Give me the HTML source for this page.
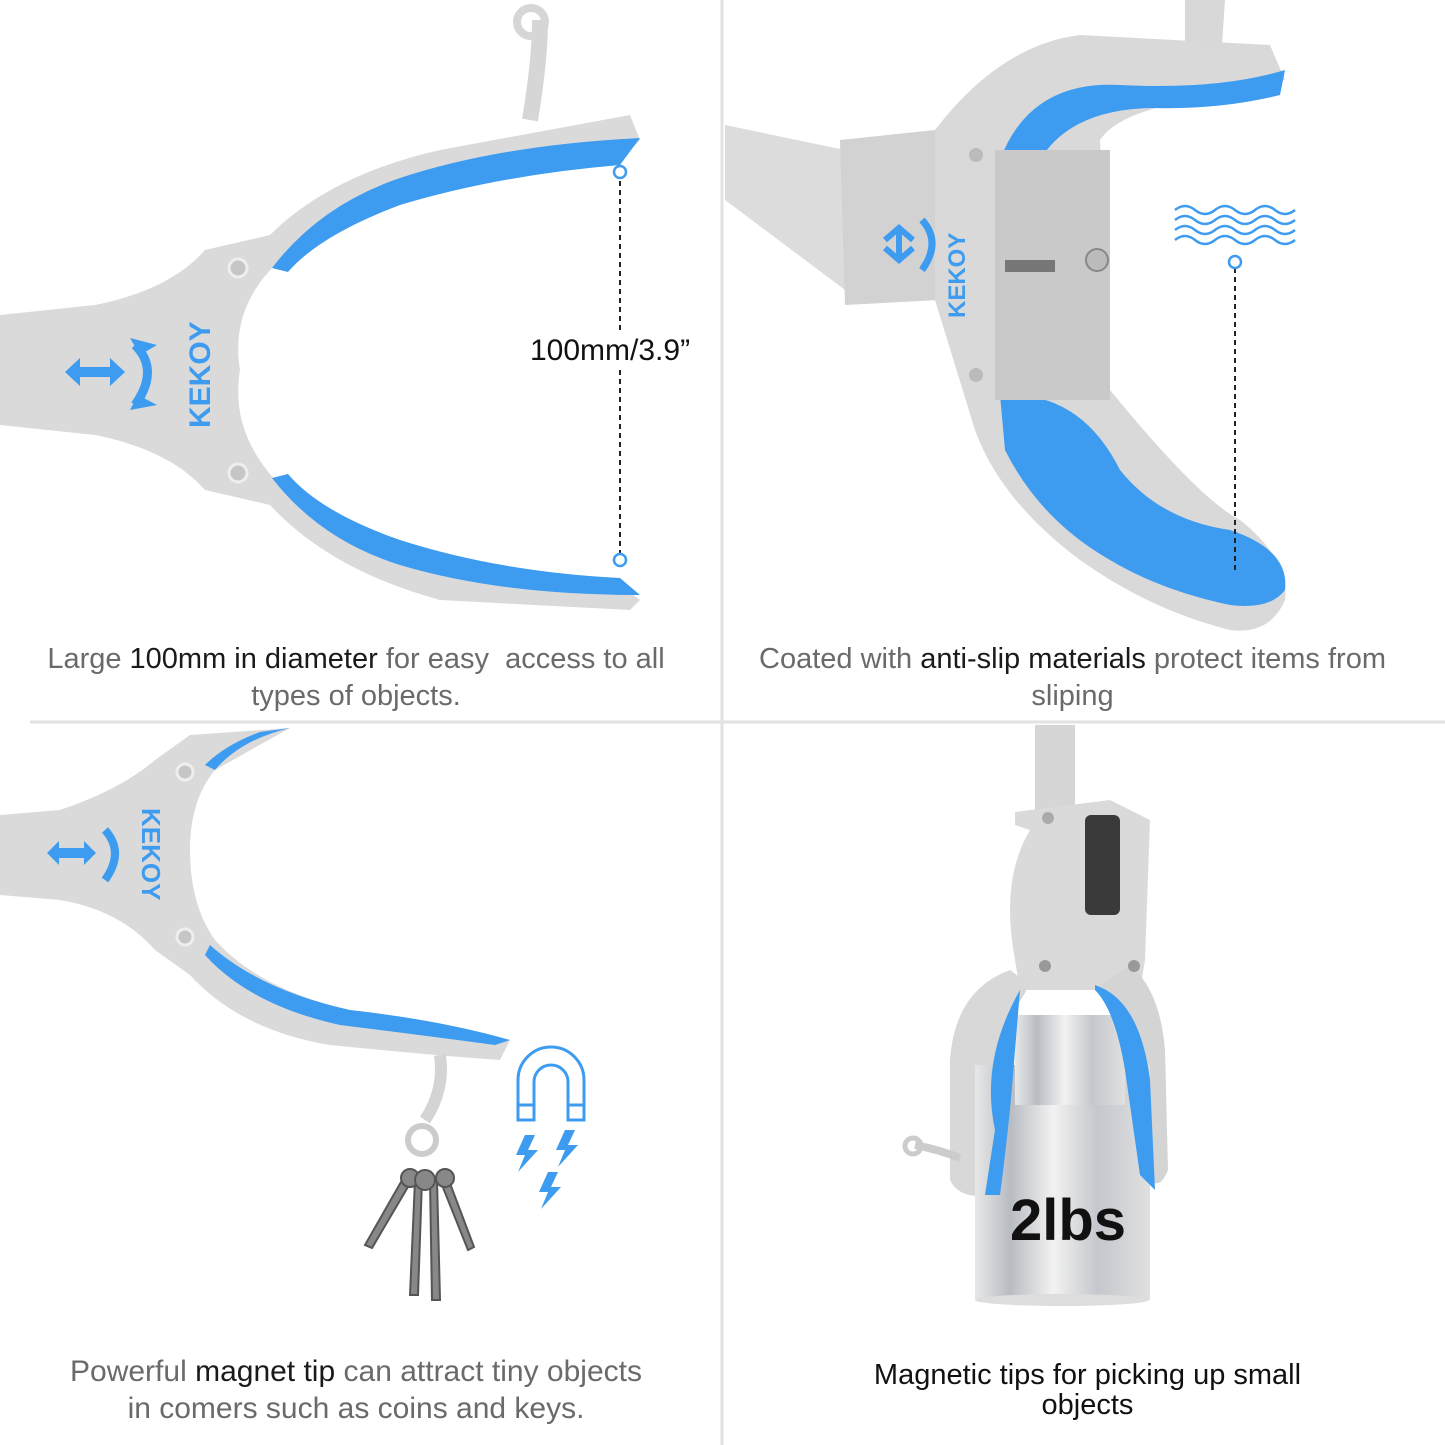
<!DOCTYPE html>
<html><head><meta charset="utf-8"><style>
body{margin:0;background:#fff;}
.w{position:relative;width:1445px;height:1445px;overflow:hidden;font-family:"Liberation Sans",sans-serif;}
svg{position:absolute;left:0;top:0;}
.cap{position:absolute;text-align:center;font-size:29px;color:#6a6a6a;line-height:37px;white-space:nowrap;}
.cap b{font-weight:normal;color:#1a1a1a;}
</style></head><body><div class="w">
<svg width="1445" height="1445" viewBox="0 0 1445 1445">
<defs>
<linearGradient id="met" x1="0" x2="1"><stop offset="0" stop-color="#e8e8e8"/><stop offset="0.2" stop-color="#b8bcc2"/><stop offset="0.45" stop-color="#f2f2f2"/><stop offset="0.7" stop-color="#c4c7cc"/><stop offset="1" stop-color="#e0e0e0"/></linearGradient>
</defs>
<line x1="722" y1="0" x2="722" y2="1445" stroke="#e2e2e2" stroke-width="3"/>
<line x1="30" y1="722" x2="1445" y2="722" stroke="#e2e2e2" stroke-width="3"/>

<!-- TOP LEFT grabber -->
<g>
<path d="M0 315 L95 305 Q170 290 205 250 L270 235 Q330 175 440 150 L630 115 L640 140 L620 160 Q450 175 360 215 Q300 240 275 265 Q230 310 240 370 Q230 430 275 480 Q300 505 360 530 Q450 570 620 585 L640 600 L630 610 L440 600 Q330 570 270 505 L205 490 Q170 450 95 435 L0 425 Z" fill="#dadada"/>
<path d="M272 268 Q320 205 400 178 Q500 145 640 138 L620 165 Q500 175 400 205 Q320 235 288 272 Z" fill="#3d9bf0"/>
<path d="M272 478 Q320 540 400 565 Q500 595 640 595 L620 578 Q500 572 400 540 Q320 512 288 474 Z" fill="#3d9bf0"/>
<path d="M530 120 Q540 60 540 20" stroke="#d6d6d6" stroke-width="16" fill="none"/>
<circle cx="531" cy="22" r="14" fill="none" stroke="#d6d6d6" stroke-width="8"/>
<circle cx="238" cy="268" r="9" fill="#c6c6c6" stroke="#eee" stroke-width="3"/>
<circle cx="238" cy="473" r="9" fill="#c6c6c6" stroke="#eee" stroke-width="3"/>
<path d="M65 372 l15-14 v9 h30 v-9 l15 14 -15 14 v-9 h-30 v9z" fill="#3d9bf0"/>
<path d="M135 345 q25 25 0 60" stroke="#3d9bf0" stroke-width="9" fill="none"/>
<polygon points="130,338 157,345 140,355" fill="#3d9bf0"/><polygon points="130,410 157,405 138,395" fill="#3d9bf0"/>
<text x="0" y="0" transform="translate(210,428) rotate(-90)" font-size="30" font-weight="bold" fill="#3d9bf0" font-family="Liberation Sans">KEKOY</text>
<line x1="620" y1="172" x2="620" y2="560" stroke="#222" stroke-width="2" stroke-dasharray="5,4"/>
<circle cx="620" cy="172" r="6" fill="#fff" stroke="#3d9bf0" stroke-width="2.5"/>
<circle cx="620" cy="560" r="6" fill="#fff" stroke="#3d9bf0" stroke-width="2.5"/>
<rect x="528" y="330" width="184" height="40" fill="#fff"/>
<text x="530" y="360" font-size="30" fill="#111" font-family="Liberation Sans">100mm/3.9”</text>
</g>

<!-- TOP RIGHT -->
<g>
<path d="M725 125 L845 150 L845 290 L725 200 Z" fill="#dcdcdc"/>
<path d="M840 140 L935 130 L940 300 L845 305 Z" fill="#d2d2d2"/>
<path d="M1185 0 L1225 0 L1222 45 L1185 45 Z" fill="#d8d8d8"/>
<path d="M935 130 Q1000 45 1080 35 L1270 45 L1285 80 L1200 100 Q1120 110 1100 140 L1110 390 Q1200 500 1240 520 Q1290 560 1285 600 Q1270 635 1230 630 Q1150 610 1080 560 Q1000 500 975 430 L935 300 Z" fill="#d9d9d9"/>
<path d="M1000 160 Q1030 80 1120 85 Q1220 90 1285 70 L1280 95 Q1220 110 1150 108 Q1070 110 1040 160 Z" fill="#3d9bf0"/>
<path d="M1000 395 Q1080 390 1120 470 Q1160 520 1230 530 Q1290 550 1285 590 Q1270 610 1230 605 Q1160 590 1110 560 Q1040 520 1005 450 Z" fill="#3d9bf0"/>
<rect x="995" y="150" width="115" height="250" fill="#c9c9c9"/>
<rect x="1005" y="260" width="50" height="12" fill="#777"/>
<circle cx="1097" cy="260" r="11" fill="#bbb" stroke="#888" stroke-width="2"/>
<circle cx="976" cy="155" r="7" fill="#bbb"/><circle cx="976" cy="375" r="7" fill="#bbb"/>
<path d="M885 240 l14-12 l14 12 M899 228 v30 M885 248 l14 12 l14-12" stroke="#3d9bf0" stroke-width="6" fill="none"/>
<path d="M922 220 q20 22 0 50" stroke="#3d9bf0" stroke-width="7" fill="none"/>
<text x="0" y="0" transform="translate(965,318) rotate(-90)" font-size="24" font-weight="bold" fill="#3d9bf0" font-family="Liberation Sans">KEKOY</text>
<g stroke="#3d9bf0" stroke-width="2.5" fill="none">
<path d="M1175 210 q10-8 20 0 t20 0 t20 0 t20 0 t20 0 t20 0"/>
<path d="M1175 220 q10-8 20 0 t20 0 t20 0 t20 0 t20 0 t20 0"/>
<path d="M1175 230 q10-8 20 0 t20 0 t20 0 t20 0 t20 0 t20 0"/>
<path d="M1175 240 q10-8 20 0 t20 0 t20 0 t20 0 t20 0 t20 0"/>
</g>
<line x1="1235" y1="268" x2="1235" y2="570" stroke="#222" stroke-width="2" stroke-dasharray="5,4"/>
<circle cx="1235" cy="262" r="6" fill="#fff" stroke="#3d9bf0" stroke-width="2.5"/>
</g>

<!-- BOTTOM LEFT -->
<g>
<path d="M0 815 L60 810 Q120 790 155 760 L190 735 L290 728 L215 770 Q190 800 190 850 Q190 905 215 940 Q260 990 350 1010 Q440 1025 510 1040 L500 1060 Q430 1055 330 1045 Q240 1030 190 975 L155 950 Q120 910 60 900 L0 895 Z" fill="#dadada"/>
<path d="M215 770 Q240 740 290 728 L260 732 Q225 745 205 765 Z" fill="#3d9bf0"/>
<path d="M210 945 Q260 990 350 1010 Q440 1020 510 1040 L495 1045 Q420 1035 340 1025 Q250 1005 205 955 Z" fill="#3d9bf0"/>
<circle cx="185" cy="772" r="8" fill="#c6c6c6" stroke="#eee" stroke-width="3"/>
<circle cx="185" cy="937" r="8" fill="#c6c6c6" stroke="#eee" stroke-width="3"/>
<path d="M47 853 l12-12 v7 h25 v-7 l12 12 -12 12 v-7 h-25 v7z" fill="#3d9bf0"/>
<path d="M105 830 q20 22 0 50" stroke="#3d9bf0" stroke-width="8" fill="none"/>
<text x="0" y="0" transform="translate(142,808) rotate(90)" font-size="26" font-weight="bold" fill="#3d9bf0" font-family="Liberation Sans">KEKOY</text>
<path d="M440 1055 Q445 1090 425 1120" stroke="#d4d4d4" stroke-width="12" fill="none"/>
<circle cx="422" cy="1140" r="14" fill="none" stroke="#ccc" stroke-width="6"/>
<g fill="#888" stroke="#555" stroke-width="2">
<path d="M405 1175 L365 1245 L372 1248 L412 1180 Z"/>
<path d="M415 1180 L410 1295 L418 1295 L422 1180 Z"/>
<path d="M430 1180 L432 1300 L440 1300 L437 1180 Z"/>
<path d="M440 1180 L468 1250 L474 1247 L448 1178 Z"/>
<circle cx="410" cy="1178" r="9"/><circle cx="425" cy="1180" r="10"/><circle cx="445" cy="1178" r="9"/>
</g>
<g stroke="#3d9bf0" stroke-width="3" fill="none">
<path d="M518 1120 V1080 a33 33 0 0 1 66 0 V1120 H568 V1082 a17 17 0 0 0 -34 0 V1120 Z"/>
<line x1="518" y1="1105" x2="534" y2="1105"/><line x1="568" y1="1105" x2="584" y2="1105"/>
</g>
<g fill="#3d9bf0">
<polygon points="525,1135 535,1135 528,1150 538,1150 518,1172 525,1155 516,1155"/>
<polygon points="565,1130 575,1130 568,1145 578,1145 558,1167 565,1150 556,1150"/>
<polygon points="548,1172 558,1172 551,1187 561,1187 541,1209 548,1192 539,1192"/>
</g>
</g>

<!-- BOTTOM RIGHT -->
<g>
<rect x="1035" y="725" width="40" height="90" fill="#d6d6d6"/>
<path d="M1015 812 L1110 800 L1150 820 L1145 960 L1140 990 L1020 990 L1015 960 Q1000 880 1030 830 L1015 825 Z" fill="#dadada"/>
<rect x="1085" y="815" width="35" height="100" rx="6" fill="#3a3a3a"/>
<path d="M1010 970 Q955 990 950 1060 L950 1180 Q960 1200 990 1195 L1000 1150 Q980 1060 1030 985 Z" fill="#d8d8d8"/>
<path d="M1130 965 Q1160 990 1165 1050 L1168 1170 Q1160 1190 1150 1180 L1130 1060 Q1120 1000 1100 985 Z" fill="#d4d4d4"/>
<rect x="975" y="1065" width="175" height="235" fill="url(#met)"/>
<ellipse cx="1062" cy="1300" rx="87" ry="6" fill="#ddd"/>
<rect x="1015" y="1015" width="110" height="90" fill="url(#met)"/>
<path d="M1020 990 Q980 1060 995 1130 L985 1195 L1000 1195 Q1010 1120 1015 1050 Z" fill="#3d9bf0"/>
<path d="M1095 985 Q1140 1000 1150 1080 L1155 1190 L1140 1175 L1125 1070 Q1115 1010 1095 990 Z" fill="#3d9bf0"/>
<circle cx="1045" cy="966" r="6" fill="#999"/><circle cx="1134" cy="966" r="6" fill="#999"/>
<circle cx="1048" cy="818" r="6" fill="#aaa"/>
<path d="M915 1145 Q940 1150 960 1158" stroke="#ccc" stroke-width="8" fill="none"/>
<circle cx="913" cy="1146" r="8" fill="none" stroke="#ccc" stroke-width="5"/>
<text x="1010" y="1240" font-size="58" font-weight="bold" fill="#111" font-family="Liberation Sans">2lbs</text>
</g>
</svg>

<div class="cap" style="left:20px;width:672px;top:641px;">Large <b>100mm in diameter</b> for easy&nbsp; access to all<br>types of objects.</div>
<div class="cap" style="left:730px;width:685px;top:641px;">Coated with <b>anti-slip materials</b> protect items from<br>sliping</div>
<div class="cap" style="left:20px;width:672px;top:1353px;font-size:30px;">Powerful <b>magnet tip</b> can attract tiny objects<br>in comers such as coins and keys.</div>
<div class="cap" style="left:780px;width:615px;top:1360px;color:#111;line-height:30px;">Magnetic tips for picking up small<br>objects</div>
</div></body></html>
